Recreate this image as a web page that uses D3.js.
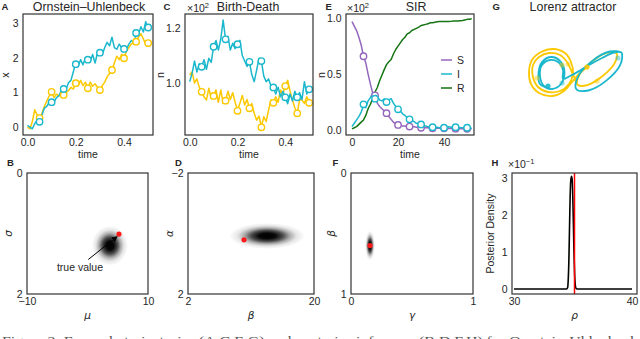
<!DOCTYPE html>
<html><head><meta charset="utf-8">
<script src="https://cdn.jsdelivr.net/npm/d3@7"></script>
<style>body{margin:0;background:#fff}svg{display:block}</style>
</head><body><svg id="chart" width="640" height="339"></svg>
<script>
// ---------- DATA ----------
// A: Ornstein–Uhlenbeck (time step 0.01, t = 0 … 0.50)
const ouCyan   = [0.05,0.0,-0.05,0.1,0.2,0.3,0.35,0.55,0.6,0.72,0.78,0.72,0.85,0.9,1.05,1.12,1.1,1.28,1.35,1.6,1.85,1.75,1.95,1.8,2.0,1.95,1.9,2.1,1.85,2.15,2.2,2.1,2.3,2.45,2.35,2.6,2.3,2.25,2.4,2.3,2.35,2.25,2.4,2.5,2.45,2.65,2.7,2.9,2.75,3.05,2.8];
const ouYellow = [0.0,-0.05,0.15,0.5,0.35,0.25,0.4,0.6,0.75,0.9,1.0,0.85,0.95,0.9,1.0,0.93,1.0,1.05,1.15,1.1,1.27,1.2,1.35,1.2,1.3,1.12,1.3,1.18,1.25,1.15,1.07,1.2,1.3,1.45,1.55,1.65,1.85,2.05,1.95,2.1,2.0,2.2,2.3,2.4,2.45,2.47,2.6,2.7,2.55,2.4,2.43];
const obsT        = [0.05,0.10,0.15,0.20,0.25,0.30,0.35,0.40,0.45,0.50];
const ouCyanObs   = [0.15,0.72,1.10,1.82,1.95,2.15,null,2.26,2.72,2.88];
const ouYellowObs = [0.26,1.02,0.93,1.27,1.12,1.07,1.65,1.99,2.47,2.43];
// C: Birth-Death (counts; axis shown ×10²)
const bdCyan   = [100.5,103.5,108,104,107,105.9,108.5,105,109,107.5,113.2,115.5,112,116,122.9,115.9,117,112,114.5,112.5,114.1,115.5,110,108,106,107.7,103,100.5,104.7,109,108,102.5,100.5,101.5,99,98.4,96,98.5,95,97,94.8,92.5,96,93.5,97,94.8,96.5,94,100.5,96,97.7];
const bdYellow = [102.9,104.1,100,101.5,98.5,96.8,95,93.8,98.1,94.4,95.3,97.5,93,97.5,92.6,93.6,97,94,96.5,93,90.2,92.6,95.5,92,94,90.8,92.5,89,86.5,88,84.1,87.7,86,90.2,93.8,92.8,95,93,97.5,96,98.9,101,97,93.8,91,89,94,93.8,92.6,95,93.2];
const bdCyanObs   = [105.9,113.2,115.9,114.1,107.7,108,98.4,94.8,94.8,97.7];
const bdYellowObs = [96.8,95.3,93.6,89.9,90.8,83.9,92.8,98.9,89,92.8];
// E: SIR (fraction; axis shown ×10²), t = 0 … 52
const sirS = [0.97,0.93,0.89,0.83,0.76,0.66,0.60,0.50,0.41,0.33,0.30,0.24,0.21,0.19,0.17,0.15,0.12,0.095,0.07,0.055,0.045,0.04,0.035,0.035,0.03,0.03,0.03,0.028,0.025,0.025,0.02,0.02,0.02,0.02,0.018,0.018,0.016,0.016,0.015,0.015,0.015,0.014,0.014,0.013,0.013,0.012,0.012,0.012,0.011,0.011,0.01,0.01,0.01];
const sirI = [0.03,0.06,0.09,0.12,0.16,0.22,0.20,0.26,0.29,0.33,0.28,0.30,0.27,0.26,0.28,0.25,0.27,0.28,0.24,0.21,0.185,0.17,0.145,0.13,0.11,0.095,0.085,0.075,0.06,0.05,0.045,0.04,0.035,0.03,0.025,0.02,0.022,0.025,0.02,0.022,0.02,0.025,0.028,0.025,0.03,0.03,0.025,0.022,0.02,0.022,0.02,0.018,0.015];
const sirR = [0.01,0.02,0.03,0.05,0.07,0.09,0.13,0.19,0.23,0.28,0.34,0.38,0.44,0.49,0.54,0.585,0.61,0.63,0.68,0.72,0.75,0.78,0.81,0.83,0.86,0.87,0.89,0.90,0.91,0.92,0.935,0.94,0.945,0.95,0.96,0.96,0.965,0.968,0.97,0.97,0.97,0.97,0.97,0.972,0.975,0.975,0.975,0.978,0.98,0.985,0.99,0.992,0.995];
const sirObsT = [5,10,15,20,25,30,35,40,45,50];
const sirSObs = [0.66,0.31,0.15,0.045,0.03,0.02,0.015,0.015,0.012,0.01];
const sirIObs = [0.23,0.28,0.25,0.185,0.095,0.05,0.025,0.02,0.025,0.02];
const sirLabels = ["S","I","R"];
// G: Lorenz attractor (projected coordinates)
const lorCyan = [[23,12],[15,16],[13.5,27],[17,38],[26.5,43],[36,38],[39.5,27],[36,16],[27,11],[19,14],[15,24],[17,35],[25,40],[33,38],[38,30],[38,21],[45,24],[55,29.5],[65,35.5],[77,42],[89,47.5],[96.6,47.3],[95.3,35.3],[81.6,19.6],[63.3,9.5],[51.4,10.7],[52.7,22.7],[66.4,38.4],[84.7,48.5],[96.6,47.3],[97,43]];
const lorYellow = [[62,33],[54,26],[47,18],[39,9],[27,4],[14,7],[6,16],[4,28],[7,40],[16,48],[28,51],[40,47],[46,38],[48,27],[44,16],[35,9],[23,8],[13,13],[8,23],[8,35],[14,43],[24,47],[35,45],[42,38],[46,30],[50,21],[52.5,15.2],[62.2,14.9],[77.7,24],[89.8,37.1],[91.5,46.7],[81.8,47.1],[66.3,38],[54.2,24.9],[52.5,15.2],[62.2,14.9],[77.7,24],[87,33]];
const lorDots = [[23,14,"c"],[62,33,"y"],[12,22,"y"],[37,35,"y"],[43,36,"y"],[37,17,"c"],[72,19,"y"],[93,42,"c"]];
// B, D, F: posterior blobs  [centerX, centerY, spreadX, spreadY]
const postB = [3.7, 1.2, 3.0, 0.33];   const trueB = [5.2, 1.01];
const postD = [13.3, 0.08, 5.4, 0.43]; const trueD = [10.0, 0.21];
const postF = [0.156, 0.60, 0.041, 0.124]; const trueF = [0.156, 0.60];
// H: posterior density of rho
const rhoX = [30,31,32,33,34,34.45,34.55,34.6,34.65,34.7,34.75,34.8,34.87,34.93,34.98,35.03,35.08,35.13,35.18,35.25,35.35,36,37,38,39,40];
const rhoY = [0,0,0,0,0,0,0.05,0.3,0.8,1.6,2.4,2.9,3.05,2.95,2.5,1.8,1.0,0.45,0.15,0.02,0,0,0,0,0,0];
const rhoTrue = 35.05;

// ---------- STYLE ----------
const ink = "#262626", FONT = "Liberation Sans, Arial, sans-serif";
const CY = "#1bb7cc", YE = "#fcc800", PU = "#9467bd", GR = "#157515";
const svg = d3.select("#chart");

function addText(x, y, s, o = {}) {
  const t = svg.append("text").attr("x", x).attr("y", y)
    .attr("font-size", o.size || 10.5).attr("fill", o.fill || ink)
    .attr("font-family", o.family || FONT)
    .attr("text-anchor", o.anchor || "middle");
  if (o.weight) t.attr("font-weight", o.weight);
  if (o.style) t.attr("font-style", o.style);
  if (o.rotate) t.attr("transform", `rotate(-90,${x},${y})`);
  t.text(s);
  return t;
}
function expText(x, y, exp) {
  const t = addText(x, y, "×10", { anchor: "start" });
  t.append("tspan").attr("dy", -4).attr("font-size", 7.5).text(exp);
}
function box(xs, ys) {
  const [x0, x1] = xs.range(), r = ys.range();
  return { x0, x1, yb: Math.max(...r), yt: Math.min(...r) };
}
function axes(xs, ys, xt, yt, xf, yf, xpad) {
  const b = box(xs, ys);
  const style = g => { g.select(".domain").remove();
    g.attr("font-size", 10.5).attr("font-family", FONT);
    g.selectAll("text").attr("fill", ink); };
  svg.append("g").attr("transform", `translate(0,${b.yb})`)
    .call(d3.axisBottom(xs).tickValues(xt).tickSize(0).tickPadding(xpad).tickFormat(xf)).call(style);
  svg.append("g").attr("transform", `translate(${b.x0},0)`)
    .call(d3.axisLeft(ys).tickValues(yt).tickSize(0).tickPadding(4.5).tickFormat(yf)).call(style);
}
function frame(xs, ys) {
  const b = box(xs, ys);
  svg.append("rect").attr("x", b.x0).attr("y", b.yt).attr("width", b.x1 - b.x0).attr("height", b.yb - b.yt)
    .attr("fill", "none").attr("stroke", "#333").attr("stroke-width", 1.2);
}
function series(xs, ys, tx, vals, color, w = 1.5) {
  svg.append("path").datum(vals.map((v, i) => [tx[i], v]))
    .attr("fill", "none").attr("stroke", color).attr("stroke-width", w).attr("stroke-linejoin", "round")
    .attr("d", d3.line().x(d => xs(d[0])).y(d => ys(d[1])));
}
function obs(xs, ys, tx, vals, color) {
  svg.append("g").selectAll("circle").data(vals.map((v, i) => [tx[i], v]).filter(d => d[1] !== null))
    .join("circle").attr("cx", d => xs(d[0])).attr("cy", d => ys(d[1])).attr("r", 3.2)
    .attr("fill", "#fff").attr("stroke", color).attr("stroke-width", 1.4);
}
const tOU = ouCyan.map((_, i) => i * 0.01);
const tSIR = sirS.map((_, i) => i);

// ---------- A ----------
{
  const xs = d3.scaleLinear([-0.0186, 0.52], [23, 153]);
  const ys = d3.scaleLinear([-0.23, 3.27], [135, 14]);
  series(xs, ys, tOU, ouYellow, YE); series(xs, ys, tOU, ouCyan, CY);
  obs(xs, ys, obsT, ouYellowObs, YE); obs(xs, ys, obsT, ouCyanObs, CY);
  axes(xs, ys, [0, 0.2, 0.4], [0, 1, 2, 3], d3.format(".1f"), d3.format("d"), 3.5);
  frame(xs, ys);
  addText(89, 11, "Ornstein–Uhlenbeck", { size: 12.4 });
  addText(1.5, 10, "A", { anchor: "start", weight: "bold", size: 9.5 });
  addText(88, 157.5, "time");
  addText(8.5, 75, "x", { rotate: true });
}
// ---------- C ----------
{
  const xs = d3.scaleLinear([-0.0197, 0.516], [185, 313]);
  const ys = d3.scaleLinear([81.1, 125.1], [135, 14]);
  series(xs, ys, tOU, bdYellow, YE); series(xs, ys, tOU, bdCyan, CY);
  obs(xs, ys, obsT, bdYellowObs, YE); obs(xs, ys, obsT, bdCyanObs, CY);
  axes(xs, ys, [0, 0.2, 0.4], [100, 120], d3.format(".1f"), v => d3.format(".1f")(v / 100), 3.5);
  frame(xs, ys);
  addText(248, 11, "Birth-Death", { size: 12.4 });
  expText(187, 11.5, "2");
  addText(163.5, 10, "C", { anchor: "start", weight: "bold", size: 9.5 });
  addText(249, 157.5, "time");
  addText(164, 75, "n", { rotate: true });
}
// ---------- E ----------
{
  const xs = d3.scaleLinear([-2.6, 53], [346, 474]);
  const ys = d3.scaleLinear([-0.045, 1.038], [135, 14]);
  series(xs, ys, tSIR, sirR, GR); series(xs, ys, tSIR, sirS, PU); series(xs, ys, tSIR, sirI, CY);
  obs(xs, ys, sirObsT, sirSObs, PU); obs(xs, ys, sirObsT, sirIObs, CY);
  axes(xs, ys, [0, 20, 40], [0, 0.5, 1], d3.format("d"), d3.format(".1f"), 3.5);
  frame(xs, ys);
  addText(416, 11, "SIR", { size: 12.4 });
  expText(347, 11.5, "2");
  addText(325.5, 10, "E", { anchor: "start", weight: "bold", size: 9.5 });
  addText(410, 157.5, "time");
  addText(324.5, 75, "n", { rotate: true });
  const lg = svg.append("g");
  [PU, CY, GR].forEach((c, i) => {
    const y = 60 + i * 14;
    lg.append("line").attr("x1", 441).attr("x2", 452).attr("y1", y).attr("y2", y).attr("stroke", c).attr("stroke-width", 1.5);
    addText(457, y + 4, sirLabels[i], { anchor: "start" });
  });
}
// ---------- G ----------
{
  const xs = d3.scaleLinear([0, 100], [525, 625]);
  const ys = d3.scaleLinear([0, 60], [100, 40]);
  const ln = d3.line().x(d => xs(d[0])).y(d => ys(d[1])).curve(d3.curveCatmullRom);
  svg.append("path").datum(lorYellow).attr("d", ln).attr("fill", "none").attr("stroke", YE).attr("stroke-width", 1.8);
  svg.append("path").datum(lorCyan).attr("d", ln).attr("fill", "none").attr("stroke", CY).attr("stroke-width", 1.8);
  svg.append("g").selectAll("circle").data(lorDots).join("circle")
    .attr("cx", d => xs(d[0])).attr("cy", d => ys(d[1])).attr("r", 2.6)
    .attr("fill", d => d[2] === "c" ? CY : YE).attr("opacity", (d, i) => i < 2 ? 0.9 : 0.45);
  addText(573, 11, "Lorenz attractor", { size: 12.4 });
  addText(492.5, 10, "G", { anchor: "start", weight: "bold", size: 9.5 });
}
// ---------- gradient for posterior blobs ----------
const defs = svg.append("defs");
const grad = defs.append("radialGradient").attr("id", "blob");
[[0, 1], [0.22, 0.97], [0.42, 0.7], [0.6, 0.33], [0.78, 0.1], [1, 0]].forEach(([o, a]) =>
  grad.append("stop").attr("offset", o).attr("stop-color", "#000").attr("stop-opacity", a));
function postPanel(xs, ys, p, tr) {
  svg.append("ellipse").attr("cx", xs(p[0])).attr("cy", ys(p[1]))
    .attr("rx", Math.abs(xs(p[0] + p[2]) - xs(p[0]))).attr("ry", Math.abs(ys(p[1] + p[3]) - ys(p[1])))
    .attr("fill", "url(#blob)");
  svg.append("circle").attr("cx", xs(tr[0])).attr("cy", ys(tr[1])).attr("r", 2.6).attr("fill", "#ff1a1a");
}
// ---------- B ----------
{
  const xs = d3.scaleLinear([-10, 10], [27, 148]);
  const ys = d3.scaleLinear([0, 2], [173, 294]);
  postPanel(xs, ys, postB, trueB);
  axes(xs, ys, [-10, 10], [0, 2], d3.format("d"), d3.format("d"), 4);
  frame(xs, ys);
  addText(7, 166, "B", { anchor: "start", weight: "bold", size: 9.5 });
  addText(87.5, 319, "μ", { style: "italic", family: "DejaVu Sans" });
  addText(12, 233.5, "σ", { style: "italic", family: "DejaVu Sans", rotate: true });
  defs.append("marker").attr("id", "arr").attr("viewBox", "0 0 10 10").attr("refX", 9).attr("refY", 5)
    .attr("markerWidth", 6).attr("markerHeight", 6).attr("orient", "auto")
    .append("path").attr("d", "M0,0L10,5L0,10z").attr("fill", "#000");
  svg.append("line").attr("x1", xs(0.13)).attr("y1", ys(1.43)).attr("x2", xs(4.9)).attr("y2", ys(1.05))
    .attr("stroke", "#000").attr("stroke-width", 1).attr("marker-end", "url(#arr)");
  addText(xs(-1.24), ys(1.62), "true value");
}
// ---------- D ----------
{
  const xs = d3.scaleLinear([2, 20], [188, 314]);
  const ys = d3.scaleLinear([-2, 2], [173, 294]);
  postPanel(xs, ys, postD, trueD);
  axes(xs, ys, [2, 20], [-2, 2], d3.format("d"), d3.format("d"), 4);
  frame(xs, ys);
  addText(175, 166, "D", { anchor: "start", weight: "bold", size: 9.5 });
  addText(251, 319, "β", { style: "italic", family: "DejaVu Sans" });
  addText(173, 233.5, "α", { style: "italic", family: "DejaVu Sans", rotate: true });
}
// ---------- F ----------
{
  const xs = d3.scaleLinear([0, 1], [351, 473]);
  const ys = d3.scaleLinear([0, 1], [173, 294]);
  postPanel(xs, ys, postF, trueF);
  axes(xs, ys, [0, 1], [0, 1], d3.format("d"), d3.format("d"), 4);
  frame(xs, ys);
  addText(332.5, 166, "F", { anchor: "start", weight: "bold", size: 9.5 });
  addText(412, 319, "γ", { style: "italic", family: "DejaVu Sans" });
  addText(335, 233.5, "β", { style: "italic", family: "DejaVu Sans", rotate: true });
}
// ---------- H ----------
{
  const xs = d3.scaleLinear([29.83, 40.42], [512, 637]);
  const ys = d3.scaleLinear([-0.135, 3.14], [294, 173]);
  svg.append("path").datum(rhoX.map((x, i) => [x, rhoY[i]])).attr("fill", "none")
    .attr("stroke", "#000").attr("stroke-width", 1.6)
    .attr("d", d3.line().x(d => xs(d[0])).y(d => ys(d[1])).curve(d3.curveMonotoneX));
  svg.append("line").attr("x1", Math.round(xs(rhoTrue)) + 0.5).attr("x2", Math.round(xs(rhoTrue)) + 0.5)
    .attr("y1", 173).attr("y2", 294).attr("stroke", "#ff0000").attr("stroke-width", 1.5);
  axes(xs, ys, [30, 40], [0, 1, 2, 3], d3.format("d"), d3.format("d"), 4);
  frame(xs, ys);
  addText(491.5, 166, "H", { anchor: "start", weight: "bold", size: 9.5 });
  expText(508, 168, "−1");
  addText(574.5, 319, "ρ", { style: "italic", family: "DejaVu Sans" });
  addText(494, 233.5, "Posterior Density", { rotate: true });
}
// ---------- caption (cut off at bottom) ----------
addText(2, 345, "Figure 2: Example trajectories (A,C,E,G) and posterior inference (B,D,F,H) for Ornstein-Uhlenbeck", {
  anchor: "start", family: "Liberation Serif, serif", size: 13, fill: "#555" })
  .attr("textLength", 636).attr("lengthAdjust", "spacingAndGlyphs");
</script></body></html>
